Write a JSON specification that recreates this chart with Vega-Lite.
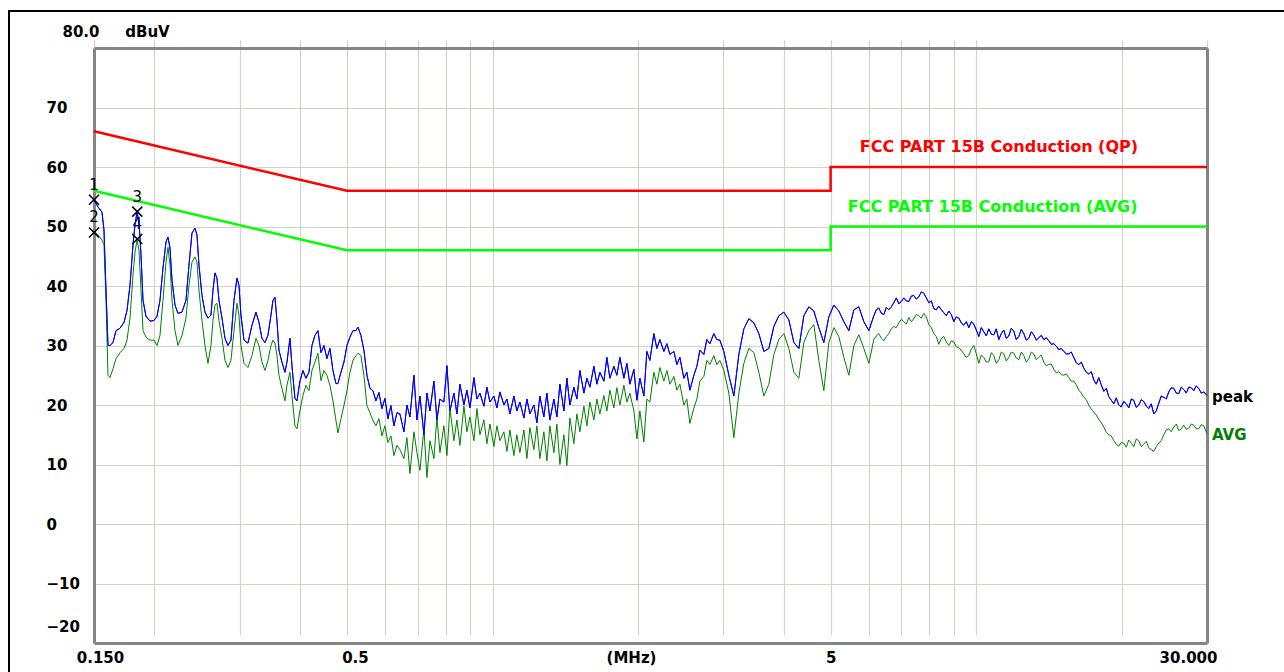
{
"$schema": "https://vega.github.io/schema/vega-lite/v6.json",
"width": 1275, "height": 661,
"autosize": {"type": "none"},
"padding": {"left": 9, "top": 11, "right": 0, "bottom": 0},
"background": "white",
"config": {"view": {"stroke": "black", "strokeWidth": 2, "strokeDash": [1275, 1936, 661], "fill": "white"}, "font": "DejaVu Sans"},
"datasets": {
"limits": [
{"f":0.15,"v":66,"s":"QP","o":1},{"f":0.5,"v":56,"s":"QP","o":2},{"f":5,"v":56,"s":"QP","o":3},{"f":5,"v":60,"s":"QP","o":4},{"f":30,"v":60,"s":"QP","o":5},
{"f":0.15,"v":56,"s":"AVG","o":1},{"f":0.5,"v":46,"s":"AVG","o":2},{"f":5,"v":46,"s":"AVG","o":3},{"f":5,"v":50,"s":"AVG","o":4},{"f":30,"v":50,"s":"AVG","o":5}
],
"limitText": [
{"f":5.746,"v":63.4,"s":"QP","t":"FCC PART 15B Conduction (QP)"},
{"f":5.427,"v":53.3,"s":"AVG","t":"FCC PART 15B Conduction (AVG)"}
],
"markers": [
{"f":0.15,"v":54.5,"n":"1"},{"f":0.15,"v":49.0,"n":"2"},{"f":0.1843,"v":52.5,"n":"3"},{"f":0.1843,"v":47.9,"n":"4"}
],
"peakLabel": [{"f":30,"v":21.3,"t":"peak"}],
"avgLabel": [{"f":30,"v":15.0,"t":"AVG"}],
"trace": [
{"f":0.15,"pk":54.5,"av":49.2},{"f":0.15288,"pk":53.3,"av":48.6},{"f":0.15582,"pk":52.4,"av":47.7},{"f":0.15731,"pk":49.4,"av":46.9},
{"f":0.15881,"pk":39.3,"av":37.6},{"f":0.16033,"pk":30.0,"av":25.0},{"f":0.16187,"pk":30.0,"av":24.6},{"f":0.16419,"pk":30.5,"av":26.1},
{"f":0.16657,"pk":32.5,"av":27.8},{"f":0.16977,"pk":32.9,"av":28.8},{"f":0.17303,"pk":33.9,"av":29.5},{"f":0.17552,"pk":35.9,"av":30.9},
{"f":0.17804,"pk":40.1,"av":34.6},{"f":0.1806,"pk":46.9,"av":41.8},{"f":0.18234,"pk":50.3,"av":45.7},{"f":0.18408,"pk":52.4,"av":47.7},
{"f":0.18584,"pk":50.8,"av":46.0},{"f":0.18762,"pk":45.2,"av":39.3},{"f":0.18941,"pk":37.6,"av":32.5},{"f":0.19213,"pk":34.9,"av":31.4},
{"f":0.19582,"pk":34.1,"av":30.9},{"f":0.19958,"pk":34.2,"av":30.9},{"f":0.20245,"pk":34.9,"av":30.0},{"f":0.20536,"pk":37.6,"av":31.7},
{"f":0.20831,"pk":43.0,"av":37.6},{"f":0.21131,"pk":47.4,"av":44.0},{"f":0.21333,"pk":48.2,"av":46.5},{"f":0.21537,"pk":46.4,"av":43.5},
{"f":0.21743,"pk":41.0,"av":37.6},{"f":0.22056,"pk":36.8,"av":32.5},{"f":0.22373,"pk":35.4,"av":30.0},{"f":0.22803,"pk":35.6,"av":31.7},
{"f":0.23241,"pk":37.6,"av":34.6},{"f":0.23575,"pk":43.5,"av":40.1},{"f":0.23914,"pk":48.9,"av":44.0},{"f":0.24258,"pk":49.7,"av":44.9},
{"f":0.2449,"pk":48.6,"av":44.0},{"f":0.24724,"pk":43.5,"av":39.3},{"f":0.2508,"pk":38.4,"av":34.2},{"f":0.25441,"pk":35.6,"av":30.0},
{"f":0.25807,"pk":34.6,"av":27.0},{"f":0.26178,"pk":35.1,"av":30.0},{"f":0.26428,"pk":39.3,"av":34.2},{"f":0.26681,"pk":42.2,"av":36.8},
{"f":0.26936,"pk":41.3,"av":37.1},{"f":0.27194,"pk":37.6,"av":34.2},{"f":0.27585,"pk":34.6,"av":31.2},{"f":0.27981,"pk":31.2,"av":27.5},
{"f":0.28383,"pk":30.0,"av":26.3},{"f":0.28791,"pk":30.9,"av":27.5},{"f":0.29206,"pk":37.6,"av":32.5},{"f":0.29626,"pk":41.3,"av":37.1},
{"f":0.29909,"pk":40.1,"av":35.1},{"f":0.30195,"pk":35.1,"av":30.0},{"f":0.30629,"pk":30.9,"av":27.0},{"f":0.31218,"pk":30.4,"av":26.3},
{"f":0.31818,"pk":33.4,"av":28.3},{"f":0.32429,"pk":35.6,"av":31.2},{"f":0.32896,"pk":33.9,"av":30.0},{"f":0.33369,"pk":31.2,"av":27.2},
{"f":0.33849,"pk":30.5,"av":25.8},{"f":0.34335,"pk":31.7,"av":27.5},{"f":0.34829,"pk":35.1,"av":30.0},{"f":0.35162,"pk":37.6,"av":30.9},
{"f":0.35499,"pk":38.1,"av":30.4},{"f":0.35838,"pk":34.2,"av":28.3},{"f":0.36181,"pk":29.2,"av":25.0},{"f":0.36701,"pk":27.2,"av":22.8},
{"f":0.37229,"pk":25.5,"av":20.7},{"f":0.37585,"pk":27.2,"av":23.3},{"f":0.38125,"pk":31.2,"av":25.5},{"f":0.3849,"pk":26.6,"av":21.6},
{"f":0.39043,"pk":21.1,"av":16.5},{"f":0.39417,"pk":20.7,"av":16.0},{"f":0.39984,"pk":24.0,"av":19.1},{"f":0.40559,"pk":25.8,"av":21.6},
{"f":0.41142,"pk":24.5,"av":23.3},{"f":0.41733,"pk":25.5,"av":22.4},{"f":0.42334,"pk":30.0,"av":25.8},{"f":0.42943,"pk":31.7,"av":27.2},
{"f":0.4356,"pk":32.5,"av":28.7},{"f":0.44187,"pk":28.8,"av":24.1},{"f":0.44822,"pk":30.0,"av":25.8},{"f":0.45467,"pk":27.8,"av":25.0},
{"f":0.4612,"pk":29.5,"av":23.3},{"f":0.46784,"pk":25.8,"av":20.7},{"f":0.47456,"pk":23.6,"av":17.4},{"f":0.47909,"pk":23.6,"av":15.3},
{"f":0.48598,"pk":25.5,"av":17.7},{"f":0.49298,"pk":27.2,"av":19.9},{"f":0.50007,"pk":30.0,"av":22.4},{"f":0.50726,"pk":31.4,"av":25.5},
{"f":0.51456,"pk":32.5,"av":27.5},{"f":0.52195,"pk":32.5,"av":28.3},{"f":0.52694,"pk":33.1,"av":28.7},{"f":0.53451,"pk":31.7,"av":28.3},
{"f":0.5422,"pk":29.2,"av":25.0},{"f":0.55,"pk":25.0,"av":19.9},{"f":0.55791,"pk":22.8,"av":18.7},{"f":0.56593,"pk":22.4,"av":17.4},
{"f":0.57407,"pk":20.7,"av":16.5},{"f":0.58232,"pk":22.1,"av":17.7},{"f":0.5907,"pk":19.4,"av":14.8},{"f":0.5992,"pk":21.1,"av":16.5},
{"f":0.60781,"pk":17.7,"av":13.7},{"f":0.61655,"pk":19.9,"av":14.8},{"f":0.62541,"pk":16.5,"av":11.5},{"f":0.6344,"pk":18.7,"av":13.2},
{"f":0.6435,"pk":18.5,"av":12.5},{"f":0.6559,"pk":15.5,"av":11.0},{"f":0.6653,"pk":20.0,"av":14.5},{"f":0.6749,"pk":18.0,"av":8.5},
{"f":0.6879,"pk":25.0,"av":15.5},{"f":0.6978,"pk":17.5,"av":12.0},{"f":0.7078,"pk":21.5,"av":9.0},{"f":0.7214,"pk":15.0,"av":16.0},
{"f":0.7318,"pk":22.0,"av":7.8},{"f":0.7423,"pk":19.0,"av":14.0},{"f":0.7566,"pk":24.0,"av":11.0},{"f":0.7674,"pk":17.5,"av":18.0},
{"f":0.7785,"pk":21.0,"av":12.0},{"f":0.7934,"pk":20.5,"av":16.5},{"f":0.8049,"pk":26.6,"av":11.5},{"f":0.8164,"pk":19.0,"av":19.5},
{"f":0.8321,"pk":22.0,"av":14.0},{"f":0.8441,"pk":18.5,"av":17.5},{"f":0.8562,"pk":23.5,"av":13.2},{"f":0.8727,"pk":20.0,"av":19.8},
{"f":0.8852,"pk":22.5,"av":15.5},{"f":0.898,"pk":19.5,"av":18.0},{"f":0.9152,"pk":24.6,"av":14.0},{"f":0.9284,"pk":21.0,"av":19.4},
{"f":0.9417,"pk":22.0,"av":15.0},{"f":0.9598,"pk":19.8,"av":17.5},{"f":0.9736,"pk":23.0,"av":13.5},{"f":0.9876,"pk":20.5,"av":16.8},
{"f":1.0066,"pk":21.5,"av":13.0},{"f":1.0211,"pk":19.5,"av":16.5},{"f":1.0358,"pk":22.2,"av":14.0},{"f":1.0557,"pk":20.0,"av":15.5},
{"f":1.0708,"pk":21.0,"av":12.2},{"f":1.0862,"pk":18.5,"av":15.8},{"f":1.1071,"pk":21.5,"av":11.5},{"f":1.123,"pk":19.0,"av":15.0},
{"f":1.1392,"pk":20.5,"av":12.0},{"f":1.1611,"pk":17.8,"av":15.8},{"f":1.1778,"pk":21.0,"av":11.0},{"f":1.1947,"pk":18.5,"av":16.2},
{"f":1.2177,"pk":20.0,"av":12.5},{"f":1.2352,"pk":17.0,"av":16.5},{"f":1.2529,"pk":21.5,"av":11.0},{"f":1.277,"pk":18.0,"av":15.5},
{"f":1.2954,"pk":22.0,"av":10.6},{"f":1.314,"pk":17.5,"av":16.5},{"f":1.3393,"pk":21.0,"av":12.0},{"f":1.3585,"pk":18.0,"av":16.8},
{"f":1.3781,"pk":23.5,"av":10.0},{"f":1.4046,"pk":19.0,"av":15.0},{"f":1.4248,"pk":24.5,"av":9.8},{"f":1.4452,"pk":20.0,"av":17.8},
{"f":1.473,"pk":23.0,"av":13.5},{"f":1.4942,"pk":21.0,"av":18.5},{"f":1.5157,"pk":25.8,"av":15.5},{"f":1.5448,"pk":22.0,"av":19.8},
{"f":1.567,"pk":24.5,"av":16.5},{"f":1.5896,"pk":23.0,"av":20.5},{"f":1.6201,"pk":26.5,"av":17.5},{"f":1.6434,"pk":23.5,"av":21.0},
{"f":1.667,"pk":25.5,"av":18.5},{"f":1.6991,"pk":24.0,"av":21.6},{"f":1.7235,"pk":28.0,"av":19.0},{"f":1.7483,"pk":24.5,"av":22.5},
{"f":1.7819,"pk":26.5,"av":19.5},{"f":1.8075,"pk":25.0,"av":22.9},{"f":1.8335,"pk":28.0,"av":20.0},{"f":1.8688,"pk":24.5,"av":23.3},
{"f":1.8957,"pk":27.0,"av":20.5},{"f":1.9229,"pk":23.5,"av":22.0},{"f":1.9599,"pk":26.0,"av":19.0},{"f":1.9881,"pk":20.8,"av":14.3},
{"f":2.0167,"pk":24.5,"av":19.0},{"f":2.0554,"pk":21.5,"av":13.8},{"f":2.085,"pk":29.0,"av":21.0},{"f":2.1149,"pk":27.5,"av":20.5},
{"f":2.1556,"pk":32.0,"av":25.5},{"f":2.1866,"pk":29.5,"av":23.5},{"f":2.218,"pk":31.0,"av":26.3},{"f":2.2607,"pk":29.0,"av":24.0},
{"f":2.2932,"pk":30.3,"av":25.8},{"f":2.3262,"pk":28.5,"av":23.5},{"f":2.3709,"pk":29.0,"av":24.8},{"f":2.405,"pk":26.8,"av":22.5},
{"f":2.4396,"pk":28.0,"av":23.5},{"f":2.4865,"pk":24.5,"av":20.0},{"f":2.5223,"pk":25.5,"av":21.0},{"f":2.5585,"pk":22.5,"av":16.9},
{"f":2.6077,"pk":25.0,"av":19.5},{"f":2.6452,"pk":26.5,"av":21.0},{"f":2.6832,"pk":29.2,"av":24.0},{"f":2.7348,"pk":28.5,"av":24.8},
{"f":2.7741,"pk":31.0,"av":27.5},{"f":2.814,"pk":30.3,"av":26.8},{"f":2.8681,"pk":32.0,"av":28.3},{"f":2.9093,"pk":31.0,"av":26.8},
{"f":2.9512,"pk":30.9,"av":27.5},
{"f":3.0079,"pk":29.0,"av":25.8},{"f":3.0803,"pk":25.0,"av":22.0},{"f":3.1545,"pk":21.5,"av":14.5},{"f":3.2305,"pk":28.5,"av":22.0},
{"f":3.3083,"pk":32.8,"av":27.0},{"f":3.388,"pk":34.5,"av":29.5},{"f":3.4696,"pk":33.8,"av":28.8},{"f":3.5532,"pk":32.0,"av":25.5},
{"f":3.6387,"pk":29.0,"av":21.5},{"f":3.7263,"pk":29.5,"av":23.5},{"f":3.8161,"pk":33.2,"av":28.5},{"f":3.908,"pk":35.0,"av":31.0},
{"f":4.0021,"pk":35.6,"av":32.0},{"f":4.0985,"pk":34.3,"av":29.5},{"f":4.1972,"pk":30.5,"av":25.5},{"f":4.2983,"pk":29.5,"av":24.5},
{"f":4.4018,"pk":35.0,"av":30.5},{"f":4.5078,"pk":36.5,"av":32.5},{"f":4.6164,"pk":35.8,"av":33.5},{"f":4.7276,"pk":33.0,"av":27.5},
{"f":4.8414,"pk":30.5,"av":22.4},{"f":4.958,"pk":34.8,"av":30.5},{"f":5.0774,"pk":36.8,"av":33.0},{"f":5.1997,"pk":35.8,"av":31.5},
{"f":5.3249,"pk":34.0,"av":28.0},{"f":5.4531,"pk":32.5,"av":25.0},{"f":5.5845,"pk":36.0,"av":30.0},{"f":5.719,"pk":36.5,"av":31.8},
{"f":5.8567,"pk":34.0,"av":29.5},{"f":5.9977,"pk":32.5,"av":27.0},
{"f":6.1422,"pk":35.0,"av":31.0},{"f":6.2158,"pk":36.0,"av":31.6},{"f":6.2901,"pk":36.3,"av":32.0},{"f":6.3655,"pk":35.4,"av":31.2},
{"f":6.4416,"pk":35.2,"av":30.8},{"f":6.5188,"pk":36.4,"av":31.5},{"f":6.5967,"pk":36.0,"av":32.0},{"f":6.6758,"pk":36.5,"av":32.8},
{"f":6.7556,"pk":37.2,"av":33.2},{"f":6.8365,"pk":38.0,"av":33.0},{"f":6.9183,"pk":37.0,"av":33.8},{"f":7.0012,"pk":37.4,"av":34.4},
{"f":7.0849,"pk":38.0,"av":34.0},{"f":7.1698,"pk":37.5,"av":33.6},{"f":7.2555,"pk":37.4,"av":34.7},{"f":7.3424,"pk":38.3,"av":34.0},
{"f":7.4303,"pk":38.4,"av":34.5},{"f":7.5193,"pk":37.8,"av":35.2},{"f":7.6092,"pk":38.2,"av":35.0},{"f":7.7004,"pk":39.0,"av":34.6},
{"f":7.7925,"pk":38.8,"av":35.4},{"f":7.8859,"pk":38.0,"av":34.8},{"f":7.9802,"pk":37.2,"av":33.5},{"f":8.0758,"pk":37.5,"av":33.0},
{"f":8.1723,"pk":36.2,"av":32.0},{"f":8.2702,"pk":36.0,"av":31.5},{"f":8.3691,"pk":36.6,"av":30.2},{"f":8.4694,"pk":36.0,"av":31.2},
{"f":8.5707,"pk":35.5,"av":31.5},{"f":8.6734,"pk":35.0,"av":30.6},{"f":8.7771,"pk":35.8,"av":30.0},{"f":8.8823,"pk":35.2,"av":30.8},
{"f":8.9885,"pk":34.0,"av":30.6},{"f":9.0962,"pk":34.8,"av":29.8},{"f":9.205,"pk":34.6,"av":29.6},{"f":9.3153,"pk":33.8,"av":29.2},
{"f":9.4266,"pk":33.4,"av":28.6},{"f":9.5395,"pk":34.0,"av":28.0},{"f":9.6536,"pk":33.0,"av":28.3},{"f":9.7693,"pk":34.0,"av":29.4},
{"f":9.8861,"pk":33.6,"av":30.0},{"f":10.005,"pk":32.6,"av":28.6},{"f":10.124,"pk":31.5,"av":27.0},{"f":10.245,"pk":33.0,"av":28.4},
{"f":10.368,"pk":32.3,"av":28.0},{"f":10.492,"pk":31.6,"av":27.2},{"f":10.618,"pk":32.8,"av":27.3},{"f":10.745,"pk":31.9,"av":28.8},
{"f":10.873,"pk":31.8,"av":28.3},{"f":11.003,"pk":32.8,"av":27.0},{"f":11.135,"pk":31.0,"av":27.6},{"f":11.268,"pk":32.0,"av":28.9},
{"f":11.403,"pk":32.6,"av":28.6},{"f":11.54,"pk":31.2,"av":27.4},{"f":11.678,"pk":31.6,"av":28.0},{"f":11.818,"pk":32.9,"av":28.9},
{"f":11.959,"pk":32.4,"av":28.7},{"f":12.102,"pk":31.0,"av":27.9},{"f":12.247,"pk":31.5,"av":27.6},{"f":12.394,"pk":32.7,"av":28.9},
{"f":12.542,"pk":32.0,"av":28.3},{"f":12.692,"pk":30.9,"av":27.2},{"f":12.844,"pk":31.2,"av":27.8},{"f":12.998,"pk":32.3,"av":28.9},
{"f":13.153,"pk":31.8,"av":28.6},{"f":13.311,"pk":30.9,"av":27.6},{"f":13.47,"pk":31.3,"av":28.0},{"f":13.631,"pk":31.7,"av":28.4},
{"f":13.794,"pk":31.0,"av":27.2},{"f":13.959,"pk":31.3,"av":26.6},{"f":14.126,"pk":30.8,"av":26.8},{"f":14.295,"pk":30.2,"av":26.9},
{"f":14.467,"pk":30.3,"av":26.0},{"f":14.64,"pk":29.9,"av":25.4},{"f":14.815,"pk":29.3,"av":25.6},{"f":14.993,"pk":29.5,"av":25.1},
{"f":15.172,"pk":29.0,"av":25.0},{"f":15.354,"pk":28.6,"av":25.2},{"f":15.537,"pk":28.6,"av":24.6},{"f":15.723,"pk":28.9,"av":24.0},
{"f":15.912,"pk":28.0,"av":24.0},{"f":16.103,"pk":27.1,"av":23.4},{"f":16.295,"pk":26.8,"av":22.5},{"f":16.49,"pk":27.2,"av":22.0},
{"f":16.687,"pk":26.2,"av":21.3},{"f":16.887,"pk":25.5,"av":20.9},{"f":17.089,"pk":25.2,"av":20.0},{"f":17.294,"pk":25.6,"av":19.3},
{"f":17.501,"pk":24.2,"av":18.8},{"f":17.711,"pk":23.5,"av":18.3},{"f":17.922,"pk":24.6,"av":17.6},{"f":18.137,"pk":23.4,"av":17.0},
{"f":18.354,"pk":22.3,"av":16.3},{"f":18.574,"pk":22.8,"av":15.4},{"f":18.796,"pk":21.4,"av":15.0},{"f":19.021,"pk":20.8,"av":14.8},
{"f":19.249,"pk":20.2,"av":14.0},{"f":19.48,"pk":21.2,"av":13.4},{"f":19.713,"pk":20.0,"av":13.1},{"f":19.949,"pk":19.7,"av":13.7},
{"f":20.187,"pk":20.6,"av":13.6},{"f":20.429,"pk":20.2,"av":12.9},{"f":20.673,"pk":19.5,"av":14.1},{"f":20.921,"pk":21.0,"av":13.6},
{"f":21.171,"pk":20.8,"av":13.0},{"f":21.425,"pk":19.6,"av":14.3},{"f":21.681,"pk":20.0,"av":14.0},{"f":21.941,"pk":20.9,"av":13.0},
{"f":22.203,"pk":20.6,"av":13.4},{"f":22.469,"pk":19.8,"av":13.9},{"f":22.738,"pk":19.4,"av":12.8},{"f":23.01,"pk":20.2,"av":12.5},
{"f":23.285,"pk":18.5,"av":12.2},{"f":23.564,"pk":19.0,"av":13.0},{"f":23.846,"pk":20.3,"av":13.6},{"f":24.132,"pk":21.5,"av":14.0},
{"f":24.42,"pk":21.3,"av":15.0},{"f":24.713,"pk":21.0,"av":15.8},{"f":25.008,"pk":22.2,"av":16.0},{"f":25.308,"pk":22.9,"av":15.5},
{"f":25.611,"pk":22.8,"av":16.3},{"f":25.918,"pk":22.0,"av":16.8},{"f":26.228,"pk":21.9,"av":15.7},{"f":26.542,"pk":23.0,"av":16.0},
{"f":26.859,"pk":22.6,"av":16.6},{"f":27.181,"pk":22.0,"av":15.9},{"f":27.506,"pk":23.0,"av":16.1},{"f":27.835,"pk":22.9,"av":16.8},
{"f":28.168,"pk":22.4,"av":16.6},{"f":28.506,"pk":23.2,"av":16.0},{"f":28.846,"pk":22.8,"av":16.0},{"f":29.192,"pk":22.0,"av":16.7},
{"f":29.541,"pk":22.2,"av":16.5},{"f":30.0,"pk":21.6,"av":15.2}
]
},
"layer": [
{
"data": {"name": "limits"},
"mark": {"type": "line", "strokeWidth": 2.5},
"encoding": {
"x": {"field": "f", "type": "quantitative", "scale": {"type": "log", "domain": [0.15, 30], "range": [85, 1198], "nice": false},
"axis": {"orient": "top", "offset": -37, "labels": false, "ticks": false, "grid": false, "title": null, "domainColor": "#858585", "domainWidth": 3}},
"y": {"field": "v", "type": "quantitative", "scale": {"domain": [-20, 80], "range": [632, 37], "nice": false, "zero": false},
"axis": {"orient": "right", "offset": -77, "labels": false, "ticks": false, "grid": false, "title": null, "domainColor": "#858585", "domainWidth": 3}},
"color": {"field": "s", "type": "nominal", "scale": {"domain": ["QP", "AVG"], "range": ["#ff0000", "#00ff00"]}, "legend": null},
"order": {"field": "o", "type": "quantitative"}
}
},
{
"data": {"name": "trace"},
"mark": {"type": "line", "strokeWidth": 1, "color": "#0000ff"},
"encoding": {
"x": {"field": "f", "type": "quantitative", "scale": {"type": "log", "domain": [0.15, 30], "range": [85, 1198], "nice": false},
"axis": {"orient": "bottom", "offset": -29,
"values": [0.15,0.2,0.3,0.4,0.5,0.6,0.7,0.8,0.9,1,2,3,4,5,6,7,8,9,10,20,30],
"labelExpr": "datum.value == 0.15 ? '0.150' : datum.value == 0.5 ? '0.5' : datum.value == 5 ? '5' : datum.value == 30 ? '30.000' : ''",
"labelOffset": {"condition": [{"test": "datum.value == 0.15", "value": 6}, {"test": "datum.value == 0.5", "value": 8}, {"test": "datum.value == 30", "value": -19}], "value": 0},
"labelFlush": false, "labelBound": false, "labelOverlap": false,
"labelBaseline": "middle", "labelPadding": 14,
"labelFont": "DejaVu Sans", "labelFontWeight": "bold", "labelFontSize": 15, "labelColor": "#000000",
"ticks": false, "tickSize": 0,
"grid": true, "gridColor": "#d6d2ca", "gridWidth": 1.2,
"domainColor": "#858585", "domainWidth": 3,
"title": "(MHz)", "titleX": 622, "titleY": 14, "titleAlign": "center", "titleBaseline": "middle",
"titleFont": "DejaVu Sans", "titleFontWeight": "bold", "titleFontSize": 15, "titleColor": "#000000"}},
"y": {"field": "pk", "type": "quantitative", "scale": {"domain": [-20, 80], "range": [632, 37], "nice": false, "zero": false},
"axis": {"orient": "left", "offset": -85,
"values": [-20,-10,0,10,20,30,40,50,60,70,80],
"labelExpr": "datum.value == 80 ? '80.0' : datum.label",
"labelOffset": {"condition": {"test": "datum.value == 80 || datum.value == -20", "value": -17}, "value": 0},
"labelPadding": {"condition": {"test": "datum.value == 80", "value": 32}, "value": 48},
"labelAlign": "left", "labelBaseline": "middle", "labelBound": false, "labelOverlap": false,
"labelFont": "DejaVu Sans", "labelFontWeight": "bold", "labelFontSize": 15, "labelColor": "#000000",
"ticks": false, "tickSize": 0,
"grid": true, "gridColor": "#d6d2ca", "gridWidth": 1.2,
"domainColor": "#858585", "domainWidth": 3,
"title": "dBuV", "titleAngle": 0, "titleX": 53, "titleY": 20, "titleAlign": "center", "titleBaseline": "middle",
"titleFont": "DejaVu Sans", "titleFontWeight": "bold", "titleFontSize": 15, "titleColor": "#000000"}}
}
},
{
"data": {"name": "markers"},
"mark": {"type": "text", "dy": -15, "fontSize": 15, "font": "DejaVu Sans", "color": "#000000"},
"encoding": {
"x": {"field": "f", "type": "quantitative", "axis": null},
"y": {"field": "v", "type": "quantitative", "axis": null},
"text": {"field": "n"}
}
},
{
"data": {"name": "trace"},
"mark": {"type": "line", "strokeWidth": 1, "color": "#008000"},
"encoding": {
"x": {"field": "f", "type": "quantitative", "axis": null},
"y": {"field": "av", "type": "quantitative", "axis": null}
}
},
{
"data": {"name": "trace"},
"mark": {"type": "line", "strokeWidth": 1, "color": "#0000ff"},
"encoding": {
"x": {"field": "f", "type": "quantitative", "axis": null},
"y": {"field": "pk", "type": "quantitative", "axis": null}
}
},
{
"data": {"name": "limitText"},
"mark": {"type": "text", "align": "left", "baseline": "middle", "font": "DejaVu Sans", "fontWeight": "bold", "fontSize": 16},
"encoding": {
"x": {"field": "f", "type": "quantitative", "axis": null},
"y": {"field": "v", "type": "quantitative", "axis": null},
"text": {"field": "t"},
"color": {"field": "s", "type": "nominal", "legend": null}
}
},
{
"data": {"name": "markers"},
"mark": {"type": "point", "shape": "M-1,-1L1,1M-1,1L1,-1", "size": 100, "stroke": "#000000", "strokeWidth": 1.5, "filled": false, "opacity": 1},
"encoding": {
"x": {"field": "f", "type": "quantitative", "axis": null},
"y": {"field": "v", "type": "quantitative", "axis": null}
}
},
{
"data": {"name": "peakLabel"},
"mark": {"type": "text", "align": "left", "baseline": "middle", "dx": 5, "font": "DejaVu Sans", "fontWeight": "bold", "fontSize": 15, "color": "#000000"},
"encoding": {
"x": {"field": "f", "type": "quantitative", "axis": null},
"y": {"field": "v", "type": "quantitative", "axis": null},
"text": {"field": "t"}
}
},
{
"data": {"name": "avgLabel"},
"mark": {"type": "text", "align": "left", "baseline": "middle", "dx": 5, "font": "DejaVu Sans", "fontWeight": "bold", "fontSize": 15, "color": "#008000"},
"encoding": {
"x": {"field": "f", "type": "quantitative", "axis": null},
"y": {"field": "v", "type": "quantitative", "axis": null},
"text": {"field": "t"}
}
}
],
"resolve": {"axis": {"x": "independent", "y": "independent"}}
}
